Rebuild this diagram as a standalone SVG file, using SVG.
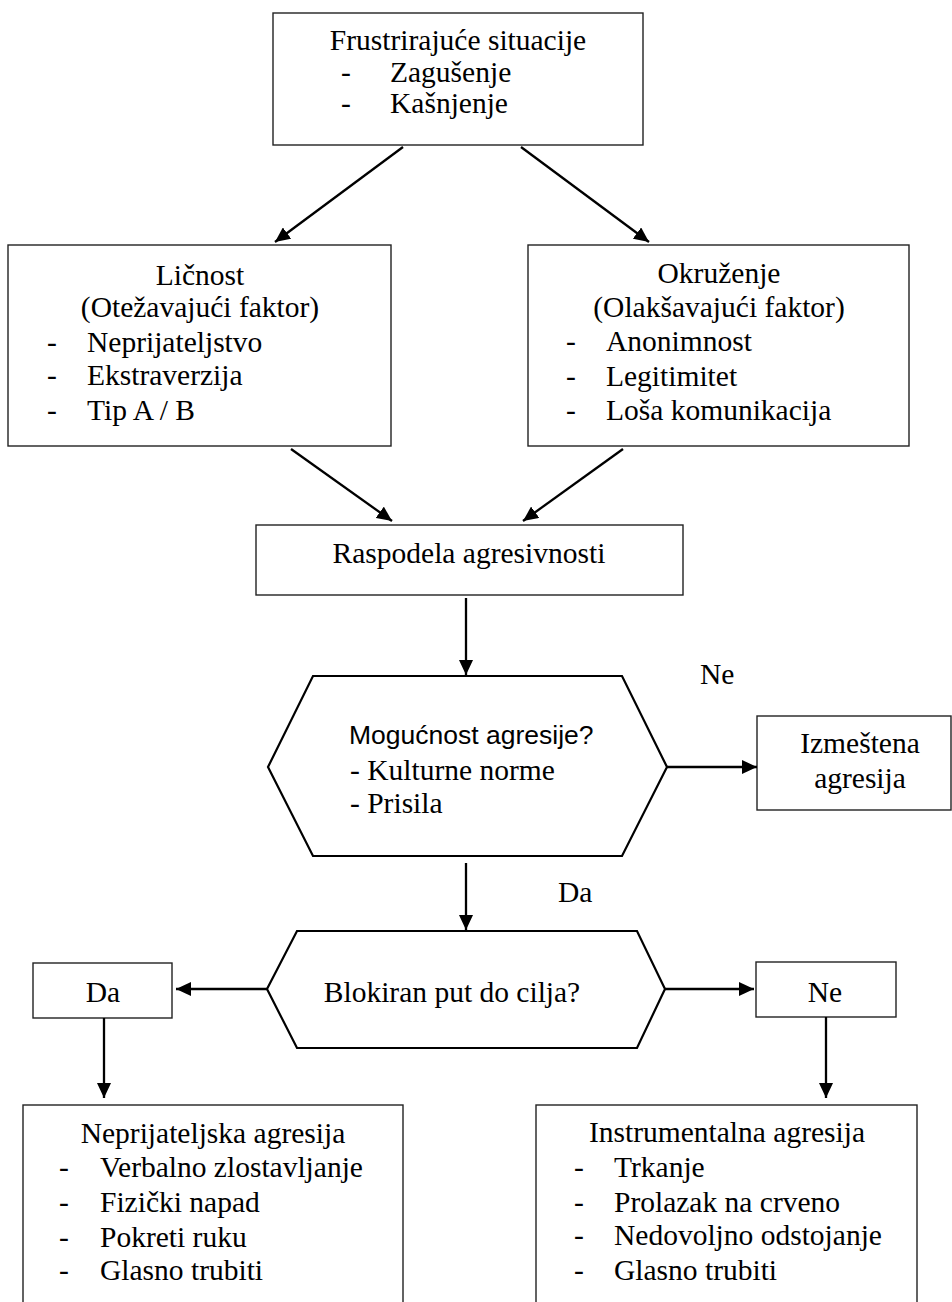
<svg xmlns="http://www.w3.org/2000/svg" width="952" height="1302" viewBox="0 0 952 1302">
<style>
.box{fill:#fff;stroke:#222;stroke-width:1.4}
.hex{fill:#fff;stroke:#000;stroke-width:2.2}
.t{font-family:"Liberation Serif","Times New Roman",serif;font-size:29.5px;fill:#000}
.c{text-anchor:middle}
.s{font-family:"Liberation Sans",Arial,sans-serif;font-size:26.5px;fill:#000}
.conn line{stroke:#000;stroke-width:2.3;marker-end:url(#ah)}
</style>
<defs>
<marker id="ah" viewBox="0 0 15 14" refX="15" refY="7" markerWidth="15" markerHeight="14" orient="auto" markerUnits="userSpaceOnUse"><path d="M0,0 L15,7 L0,14 z" fill="#000"/></marker>
</defs>
<rect width="952" height="1302" fill="#fff"/>
<g id="frustrirajuce">
<rect class="box" x="273" y="13" width="370" height="132"/>
<text class="t c" x="458" y="50">Frustrirajuće situacije</text>
<text class="t" x="341" y="82">-</text><text class="t" x="390" y="82">Zagušenje</text>
<text class="t" x="341" y="113">-</text><text class="t" x="390" y="113">Kašnjenje</text>
</g>
<g id="licnost">
<rect class="box" x="8" y="245" width="383" height="201"/>
<text class="t c" x="200" y="285">Ličnost</text>
<text class="t c" x="200" y="317">(Otežavajući faktor)</text>
<text class="t" x="47" y="352">-</text><text class="t" x="87" y="352">Neprijateljstvo</text>
<text class="t" x="47" y="385">-</text><text class="t" x="87" y="385">Ekstraverzija</text>
<text class="t" x="47" y="420">-</text><text class="t" x="87" y="420">Tip A / B</text>
</g>
<g id="okruzenje">
<rect class="box" x="528" y="245" width="381" height="201"/>
<text class="t c" x="719" y="283">Okruženje</text>
<text class="t c" x="719" y="317">(Olakšavajući faktor)</text>
<text class="t" x="566" y="351">-</text><text class="t" x="606" y="351">Anonimnost</text>
<text class="t" x="566" y="386">-</text><text class="t" x="606" y="386">Legitimitet</text>
<text class="t" x="566" y="420">-</text><text class="t" x="606" y="420">Loša komunikacija</text>
</g>
<g id="raspodela">
<rect class="box" x="256" y="525" width="427" height="70"/>
<text class="t c" x="469" y="563">Raspodela agresivnosti</text>
</g>
<g id="mogucnost">
<polygon class="hex" points="313,676 622,676 667,767 622,856 313,856 268,767"/>
<text class="s" x="349" y="744">Mogućnost agresije?</text>
<text class="t" x="350" y="780">- Kulturne norme</text>
<text class="t" x="350" y="813">- Prisila</text>
</g>
<g id="izmestena">
<rect class="box" x="757" y="716" width="194" height="94"/>
<text class="t c" x="860" y="753">Izmeštena</text>
<text class="t c" x="860" y="788">agresija</text>
</g>
<g id="blokiran">
<polygon class="hex" points="297,931 637,931 665,989 637,1048 297,1048 267,989"/>
<text class="t c" x="452" y="1002">Blokiran put do cilja?</text>
</g>
<g id="da-box">
<rect class="box" x="33" y="963" width="139" height="55"/>
<text class="t c" x="103" y="1002">Da</text>
</g>
<g id="ne-box">
<rect class="box" x="756" y="962" width="140" height="55"/>
<text class="t c" x="825" y="1002">Ne</text>
</g>
<g id="neprijateljska">
<rect class="box" x="23" y="1105" width="380" height="210"/>
<text class="t c" x="213" y="1143">Neprijateljska agresija</text>
<text class="t" x="59" y="1177">-</text><text class="t" x="100" y="1177">Verbalno zlostavljanje</text>
<text class="t" x="59" y="1212">-</text><text class="t" x="100" y="1212">Fizički napad</text>
<text class="t" x="59" y="1247">-</text><text class="t" x="100" y="1247">Pokreti ruku</text>
<text class="t" x="59" y="1280">-</text><text class="t" x="100" y="1280">Glasno trubiti</text>
</g>
<g id="instrumentalna">
<rect class="box" x="536" y="1105" width="381" height="210"/>
<text class="t c" x="727" y="1142">Instrumentalna agresija</text>
<text class="t" x="574" y="1177">-</text><text class="t" x="614" y="1177">Trkanje</text>
<text class="t" x="574" y="1212">-</text><text class="t" x="614" y="1212">Prolazak na crveno</text>
<text class="t" x="574" y="1245">-</text><text class="t" x="614" y="1245">Nedovoljno odstojanje</text>
<text class="t" x="574" y="1280">-</text><text class="t" x="614" y="1280">Glasno trubiti</text>
</g>
<g id="labels">
<text class="t" x="700" y="684">Ne</text>
<text class="t" x="558" y="902">Da</text>
</g>
<g id="connectors" class="conn">
<line x1="403" y1="147" x2="275" y2="242"/>
<line x1="521" y1="147" x2="649" y2="242"/>
<line x1="291" y1="449" x2="392" y2="521"/>
<line x1="623" y1="449" x2="523" y2="521"/>
<line x1="466" y1="598" x2="466" y2="675"/>
<line x1="667" y1="767" x2="757" y2="767"/>
<line x1="466" y1="863" x2="466" y2="930"/>
<line x1="267" y1="989" x2="176" y2="989"/>
<line x1="665" y1="989" x2="754" y2="989"/>
<line x1="104" y1="1018" x2="104" y2="1098"/>
<line x1="826" y1="1017" x2="826" y2="1098"/>
</g>
</svg>
